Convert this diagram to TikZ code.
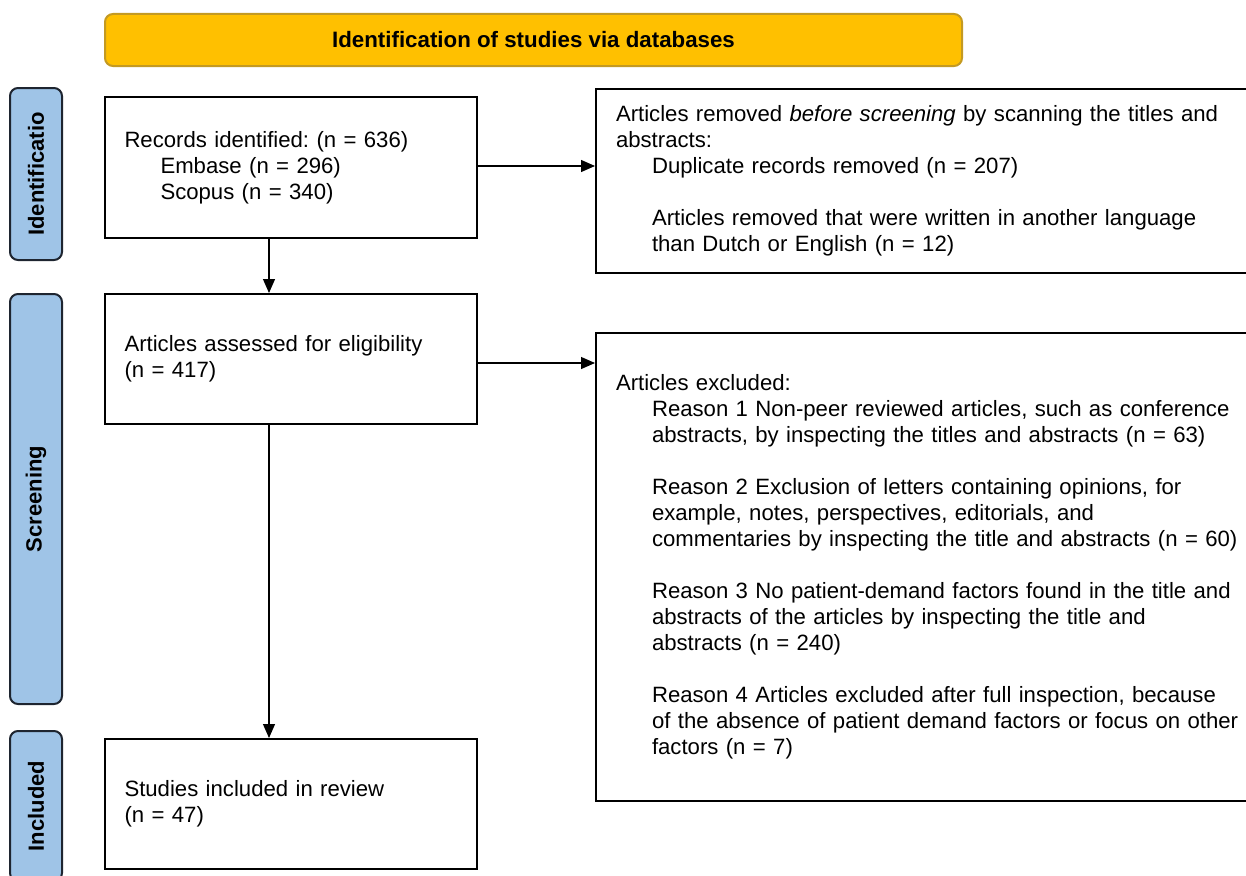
\documentclass[tikz,border=0pt]{standalone}
\usepackage{fontspec}
\setmainfont{Liberation Sans}
\usetikzlibrary{arrows.meta}
\definecolor{bannerfill}{HTML}{FFC000}
\definecolor{bannerline}{HTML}{C49A22}
\definecolor{sidefill}{HTML}{9FC4E7}
\definecolor{sideline}{HTML}{1E2530}
\begin{document}
\frenchspacing
\begin{tikzpicture}[x=1pt,y=1pt,
  txt/.style={font=\fontsize{22.15}{26}\selectfont\frenchspacing},
  flowbox/.style={txt,draw=black,line width=2pt,rectangle,anchor=north west,
    align=left,inner ysep=0pt,inner xsep=19.5pt},
  sidebox/.style={draw=sideline,fill=sidefill,line width=2pt,rounded corners=8pt,
    rotate=90,minimum height=52pt,inner sep=0pt,
    font=\fontsize{22}{26}\selectfont\bfseries},
  flowarrow/.style={line width=1.2pt,-{Triangle[length=14pt,width=12pt]}}
]
\useasboundingbox (0,0) rectangle (1246,-875);

% banner
\node[draw=bannerline,fill=bannerfill,line width=2pt,rounded corners=8pt,
  anchor=north west,minimum width=857pt,minimum height=52pt,inner sep=0pt,
  font=\fontsize{22.3}{26}\selectfont\bfseries] (banner) at (104,-13)
  {Identification of studies via databases};

% side labels
\node[sidebox,minimum width=172pt] (sid) at (36,-174) {Identificatio};
\node[sidebox,minimum width=410pt] (sscr) at (36,-499) {Screening};
\node[sidebox,minimum width=150pt] (sinc) at (36,-806) {Included};

% left column
\node[flowbox,text width=333pt,minimum height=141pt] (b1) at (104,-96)
  {Records identified: (n = 636)\\
   \hspace*{36pt}Embase (n = 296)\\
   \hspace*{36pt}Scopus (n = 340)};
\node[flowbox,text width=333pt,minimum height=130pt,yshift=-2pt] (b2) at (104,-291)
  {Articles assessed for eligibility\\(n = 417)};
\node[flowbox,text width=333pt,minimum height=130pt,yshift=-2pt] (b3) at (104,-736)
  {Studies included in review\\(n = 47)};

% right column
\node[flowbox,text width=720pt,inner xsep=20pt,minimum height=184pt] (r1) at (595,-88)
  {Articles removed \textit{before screening} by scanning the titles and\\
   abstracts:\\
   \hspace*{36pt}Duplicate records removed (n = 207)\\[26pt]
   \hspace*{36pt}Articles removed that were written in another language\\
   \hspace*{36pt}than Dutch or English (n = 12)};
\node[flowbox,text width=720pt,inner xsep=20pt,minimum height=468pt] (r2) at (595,-332)
  {Articles excluded:\\
   \hspace*{36pt}Reason 1 Non-peer reviewed articles, such as conference\\
   \hspace*{36pt}abstracts, by inspecting the titles and abstracts (n = 63)\\[26pt]
   \hspace*{36pt}Reason 2 Exclusion of letters containing opinions, for\\
   \hspace*{36pt}example, notes, perspectives, editorials, and\\
   \hspace*{36pt}commentaries by inspecting the title and abstracts (n = 60)\\[26pt]
   \hspace*{36pt}Reason 3 No patient-demand factors found in the title and\\
   \hspace*{36pt}abstracts of the articles by inspecting the title and\\
   \hspace*{36pt}abstracts (n = 240)\\[26pt]
   \hspace*{36pt}Reason 4 Articles excluded after full inspection, because\\
   \hspace*{36pt}of the absence of patient demand factors or focus on other\\
   \hspace*{36pt}factors (n = 7)};

% connectors
\coordinate (a1) at ([yshift=1.5pt]b1.east);
\coordinate (a2) at ([yshift=-4pt]b2.east);
\coordinate (v1) at ([xshift=-22pt]b1.south);
\coordinate (v2) at ([xshift=-22pt]b2.south);
\draw[flowarrow] (a1) -- (r1.west |- a1);
\draw[flowarrow] (a2) -- (r2.west |- a2);
\draw[flowarrow] (v1) -- (v1 |- b2.north);
\draw[flowarrow] (v2) -- (v2 |- b3.north);
\end{tikzpicture}
\end{document}
